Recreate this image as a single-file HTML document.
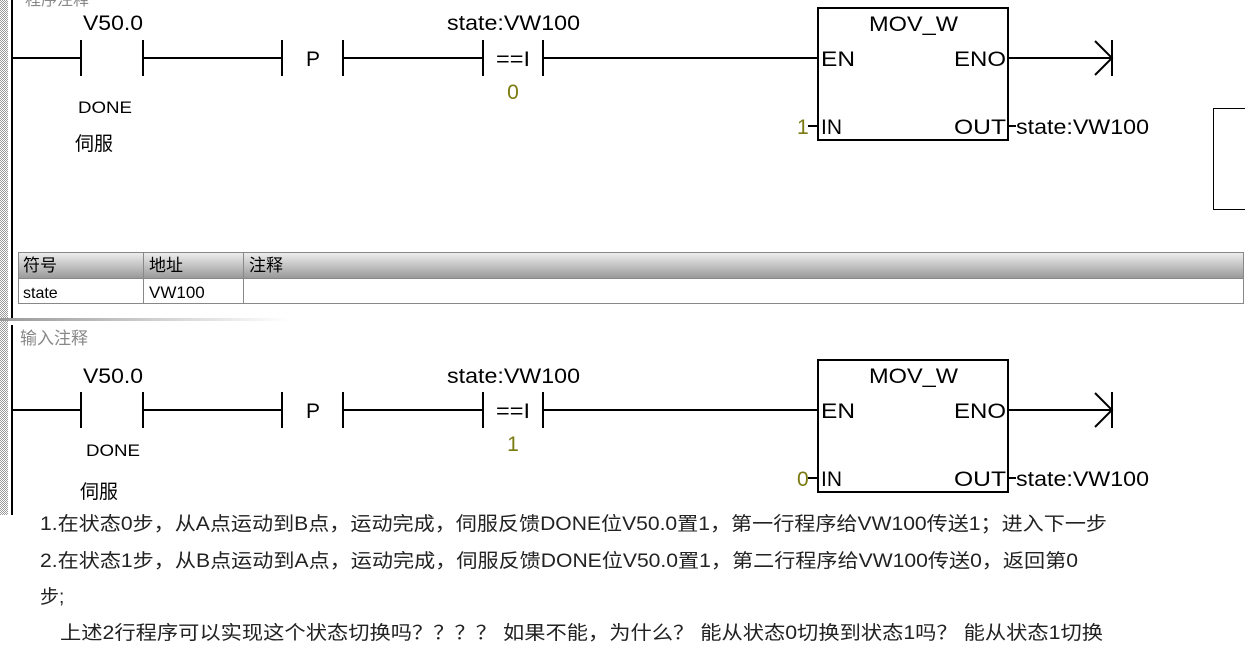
<!DOCTYPE html>
<html><head><meta charset="utf-8"><style>
html,body{margin:0;padding:0;background:#fff;}
svg{display:block}
</style></head><body>
<svg width="1245" height="648" xmlns="http://www.w3.org/2000/svg" font-family="Liberation Sans, Noto Sans CJK SC, sans-serif">
<defs>
<pattern id="hatch" width="2" height="2" patternUnits="userSpaceOnUse"><rect width="2" height="2" fill="#fff"/><rect width="1" height="1" fill="#999"/><rect x="1" y="1" width="1" height="1" fill="#999"/></pattern>
<linearGradient id="hdr" x1="0" y1="0" x2="0" y2="1"><stop offset="0" stop-color="#f0f0f0"/><stop offset="1" stop-color="#9a9a9a"/></linearGradient>
<linearGradient id="sep" x1="0" y1="0" x2="1" y2="0"><stop offset="0" stop-color="#999"/><stop offset="1" stop-color="#fff"/></linearGradient>
</defs>
<rect x="0" y="0" width="8" height="515" fill="url(#hatch)"/>
<rect x="11" y="0" width="2" height="318" fill="#000"/>
<rect x="11" y="325" width="2" height="190" fill="#000"/>
<rect x="0" y="318" width="290" height="3" fill="url(#sep)"/>

<g stroke="#000" stroke-width="2" fill="none">
<path d="M12 58H81M81 40V76M143 40V76M143 58H282M282 40V76M343 40V76M343 58H483M483 40V76M543 40V76M543 58H818M1008 58H1112M1112 40V76M1095 41L1112 58L1095 75M808 126H818M1008 126H1016"/>
<rect x="818" y="8" width="190" height="132"/>
</g>
<g font-size="21" fill="#000">
<text x="83" y="30" textLength="60" lengthAdjust="spacingAndGlyphs">V50.0</text>
<text x="313" y="66" text-anchor="middle">P</text>
<text x="447" y="30" textLength="133" lengthAdjust="spacingAndGlyphs">state:VW100</text>
<text x="496" y="66" textLength="34" lengthAdjust="spacingAndGlyphs">==I</text>
<text x="513" y="99" text-anchor="middle" fill="#7a7a10">0</text>
<text x="869" y="31" textLength="89" lengthAdjust="spacingAndGlyphs">MOV_W</text>
<text x="821" y="66" textLength="34" lengthAdjust="spacingAndGlyphs">EN</text>
<text x="954" y="66" textLength="52" lengthAdjust="spacingAndGlyphs">ENO</text>
<text x="821" y="134">IN</text>
<text x="954" y="134" textLength="52" lengthAdjust="spacingAndGlyphs">OUT</text>
<text x="797" y="134" fill="#7a7a10">1</text>
<text x="1016" y="134" textLength="133" lengthAdjust="spacingAndGlyphs">state:VW100</text>
<text x="78" y="113" font-size="17" textLength="54" lengthAdjust="spacingAndGlyphs">DONE</text>
<text x="75" y="150" font-size="19">伺服</text>
</g>
<rect x="1213.5" y="108.5" width="40" height="101" fill="none" stroke="#000"/>

<g stroke="#000" stroke-width="2" fill="none">
<path d="M12 410H81M81 392V428M143 392V428M143 410H282M282 392V428M343 392V428M343 410H483M483 392V428M543 392V428M543 410H818M1008 410H1112M1112 392V428M1095 393L1112 410L1095 427M808 478H818M1008 478H1016"/>
<rect x="818" y="360" width="190" height="132"/>
</g>
<g font-size="21" fill="#000">
<text x="83" y="383" textLength="60" lengthAdjust="spacingAndGlyphs">V50.0</text>
<text x="313" y="418" text-anchor="middle">P</text>
<text x="447" y="383" textLength="133" lengthAdjust="spacingAndGlyphs">state:VW100</text>
<text x="496" y="418" textLength="34" lengthAdjust="spacingAndGlyphs">==I</text>
<text x="513" y="451" text-anchor="middle" fill="#7a7a10">1</text>
<text x="869" y="383" textLength="89" lengthAdjust="spacingAndGlyphs">MOV_W</text>
<text x="821" y="418" textLength="34" lengthAdjust="spacingAndGlyphs">EN</text>
<text x="954" y="418" textLength="52" lengthAdjust="spacingAndGlyphs">ENO</text>
<text x="821" y="486">IN</text>
<text x="954" y="486" textLength="52" lengthAdjust="spacingAndGlyphs">OUT</text>
<text x="797" y="486" fill="#7a7a10">0</text>
<text x="1016" y="486" textLength="133" lengthAdjust="spacingAndGlyphs">state:VW100</text>
<text x="86" y="456" font-size="17" textLength="54" lengthAdjust="spacingAndGlyphs">DONE</text>
<text x="80" y="498" font-size="19">伺服</text>
</g>

<rect x="18" y="252" width="1225" height="26" fill="url(#hdr)"/>
<rect x="18.5" y="252.5" width="1225" height="51" fill="none" stroke="#888"/>
<path d="M18 278.5H1243M143.5 252V304M243.5 252V304" stroke="#888"/>
<g font-size="17" fill="#000">
<text x="23" y="271">符号</text><text x="149" y="271">地址</text><text x="249" y="271">注释</text>
<text x="23" y="298" font-size="16">state</text><text x="149" y="298" font-size="17">VW100</text>
</g>
<text x="20" y="344" font-size="17" fill="#888">输入注释</text>
<text x="25" y="5" font-size="16" fill="#888">程序注释</text>

<g font-size="19" fill="#222">
<text x="40" y="530" textLength="1067" lengthAdjust="spacingAndGlyphs">1.在状态0步，从A点运动到B点，运动完成，伺服反馈DONE位V50.0置1，第一行程序给VW100传送1；进入下一步</text>
<text x="40" y="567" textLength="1038" lengthAdjust="spacingAndGlyphs">2.在状态1步，从B点运动到A点，运动完成，伺服反馈DONE位V50.0置1，第二行程序给VW100传送0，返回第0</text>
<text x="40" y="603">步;</text>
<text x="60" y="639" textLength="1043" lengthAdjust="spacingAndGlyphs">上述2行程序可以实现这个状态切换吗？？？？ 如果不能，为什么？ 能从状态0切换到状态1吗？ 能从状态1切换</text>
</g>
</svg>
</body></html>
